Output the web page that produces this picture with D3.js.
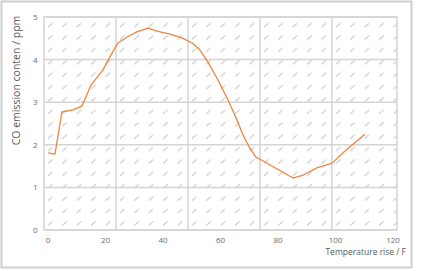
<!DOCTYPE html>
<html>
<head>
<meta charset="utf-8">
<script src="https://cdn.jsdelivr.net/npm/d3@7"></script>
<style>
  body { margin: 0; background: #fff; }
  text { font-family: "Open Sans", "Liberation Sans", sans-serif; }
</style>
</head>
<body>
<div id="chart"></div>
<script>
// values
var tempRise = [0.2, 2.6, 5.0, 8.9, 12.0, 15.1, 19.3, 22.1, 24.5, 27.7, 31.1, 35.0, 38.1, 42.6, 46.8, 50.3,
                53.0, 55.8, 59.3, 62.8, 65.6, 68.0, 70.4, 72.5, 75.0, 85.4, 88.9, 93.7, 99.0, 103.1, 108.0, 110.4]
var coPpm   = [1.81, 1.78, 2.77, 2.82, 2.91, 3.40, 3.76, 4.11, 4.39, 4.53, 4.65, 4.74, 4.67, 4.60, 4.51, 4.39,
                4.23, 3.94, 3.52, 3.05, 2.63, 2.23, 1.92, 1.71, 1.62, 1.22, 1.29, 1.46, 1.57, 1.83, 2.11, 2.25]
var xTicks = [0, 20, 40, 60, 80, 100, 120]
var yTicks = [0, 1, 2, 3, 4, 5]
// vertical gridlines in the picture do not sit on the tick labels
var xGrid = [23.8, 48.9, 73.9, 98.9]

var x_label = "Temperature rise / F"
var y_label = "CO emission conten / ppm"

var width = 422, height = 271
var plot = {left: 44, right: 397, top: 17, bottom: 230}

var svg = d3.select("#chart").append("svg")
    .attr("width", width)
    .attr("height", height)

// outer chart border
svg.append("rect")
    .attr("x", 1.5).attr("y", 1.5)
    .attr("width", 410).attr("height", 266)
    .attr("fill", "#fff")
    .attr("stroke", "#cfcfcf")
    .attr("stroke-width", 2)

// hatch pattern for the plot area
var defs = svg.append("defs")
var pat = defs.append("pattern")
    .attr("id", "hatch")
    .attr("patternUnits", "userSpaceOnUse")
    .attr("x", plot.left).attr("y", plot.top)
    .attr("width", 14.4).attr("height", 12.4)
pat.append("line")
    .attr("x1", 4).attr("y1", 10)
    .attr("x2", 8.5).attr("y2", 6)
    .attr("stroke", "#c4c4c4")
    .attr("stroke-width", 1)

var xScale = d3.scaleLinear().domain([0, 120]).range([47.5, 392.5])
var yScale = d3.scaleLinear().domain([0, 5]).range([plot.bottom, plot.top])

var g = svg.append("g")

g.append("rect")
    .attr("x", plot.left).attr("y", plot.top)
    .attr("width", plot.right - plot.left)
    .attr("height", plot.bottom - plot.top)
    .attr("fill", "url(#hatch)")
    .attr("stroke", "#d4d4d4")
    .attr("stroke-width", 1.5)

// gridlines
g.selectAll(".hgrid").data(yTicks).enter().append("line")
    .attr("class", "hgrid")
    .attr("x1", plot.left).attr("x2", plot.right)
    .attr("y1", function(d) { return yScale(d); })
    .attr("y2", function(d) { return yScale(d); })
    .attr("stroke", "#d4d4d4")
    .attr("stroke-width", 1.5)

g.selectAll(".vgrid").data(xGrid).enter().append("line")
    .attr("class", "vgrid")
    .attr("y1", plot.top).attr("y2", plot.bottom)
    .attr("x1", function(d) { return xScale(d); })
    .attr("x2", function(d) { return xScale(d); })
    .attr("stroke", "#d4d4d4")
    .attr("stroke-width", 1.5)

// axes (labels only)
var x_axis = g.append("g")
    .attr("transform", "translate(0," + plot.bottom + ")")
    .call(d3.axisBottom(xScale).tickValues(xTicks).tickFormat(d3.format("d")).tickSize(0).tickPadding(7))
var y_axis = g.append("g")
    .attr("transform", "translate(" + plot.left + ",0)")
    .call(d3.axisLeft(yScale).tickValues(yTicks).tickFormat(d3.format("d")).tickSize(0).tickPadding(6.5))

g.selectAll(".domain").remove()
g.selectAll(".tick text")
    .attr("fill", "#6b6b6b")
    .style("font-size", "8px")
    .style("font-family", "'Open Sans', 'Liberation Sans', sans-serif")

// the line
var data = tempRise.map(function(d, i) { return [d, coPpm[i]]; })
g.append("path")
    .datum(data)
    .attr("fill", "none")
    .attr("stroke", "#ef8440")
    .attr("stroke-width", 1.3)
    .attr("stroke-linejoin", "round")
    .attr("d", d3.line()
        .x(function(d) { return xScale(d[0]); })
        .y(function(d) { return yScale(d[1]); }))

// axis titles
g.append("text")
    .attr("x", 406).attr("y", 255)
    .attr("text-anchor", "end")
    .attr("fill", "#595959")
    .style("font-size", "8.5px")
    .text(x_label)

g.append("text")
    .attr("transform", "translate(20,80.5)rotate(-90)")
    .attr("text-anchor", "middle")
    .attr("fill", "#595959")
    .style("font-size", "10.5px")
    .text(y_label)
</script>
</body>
</html>
